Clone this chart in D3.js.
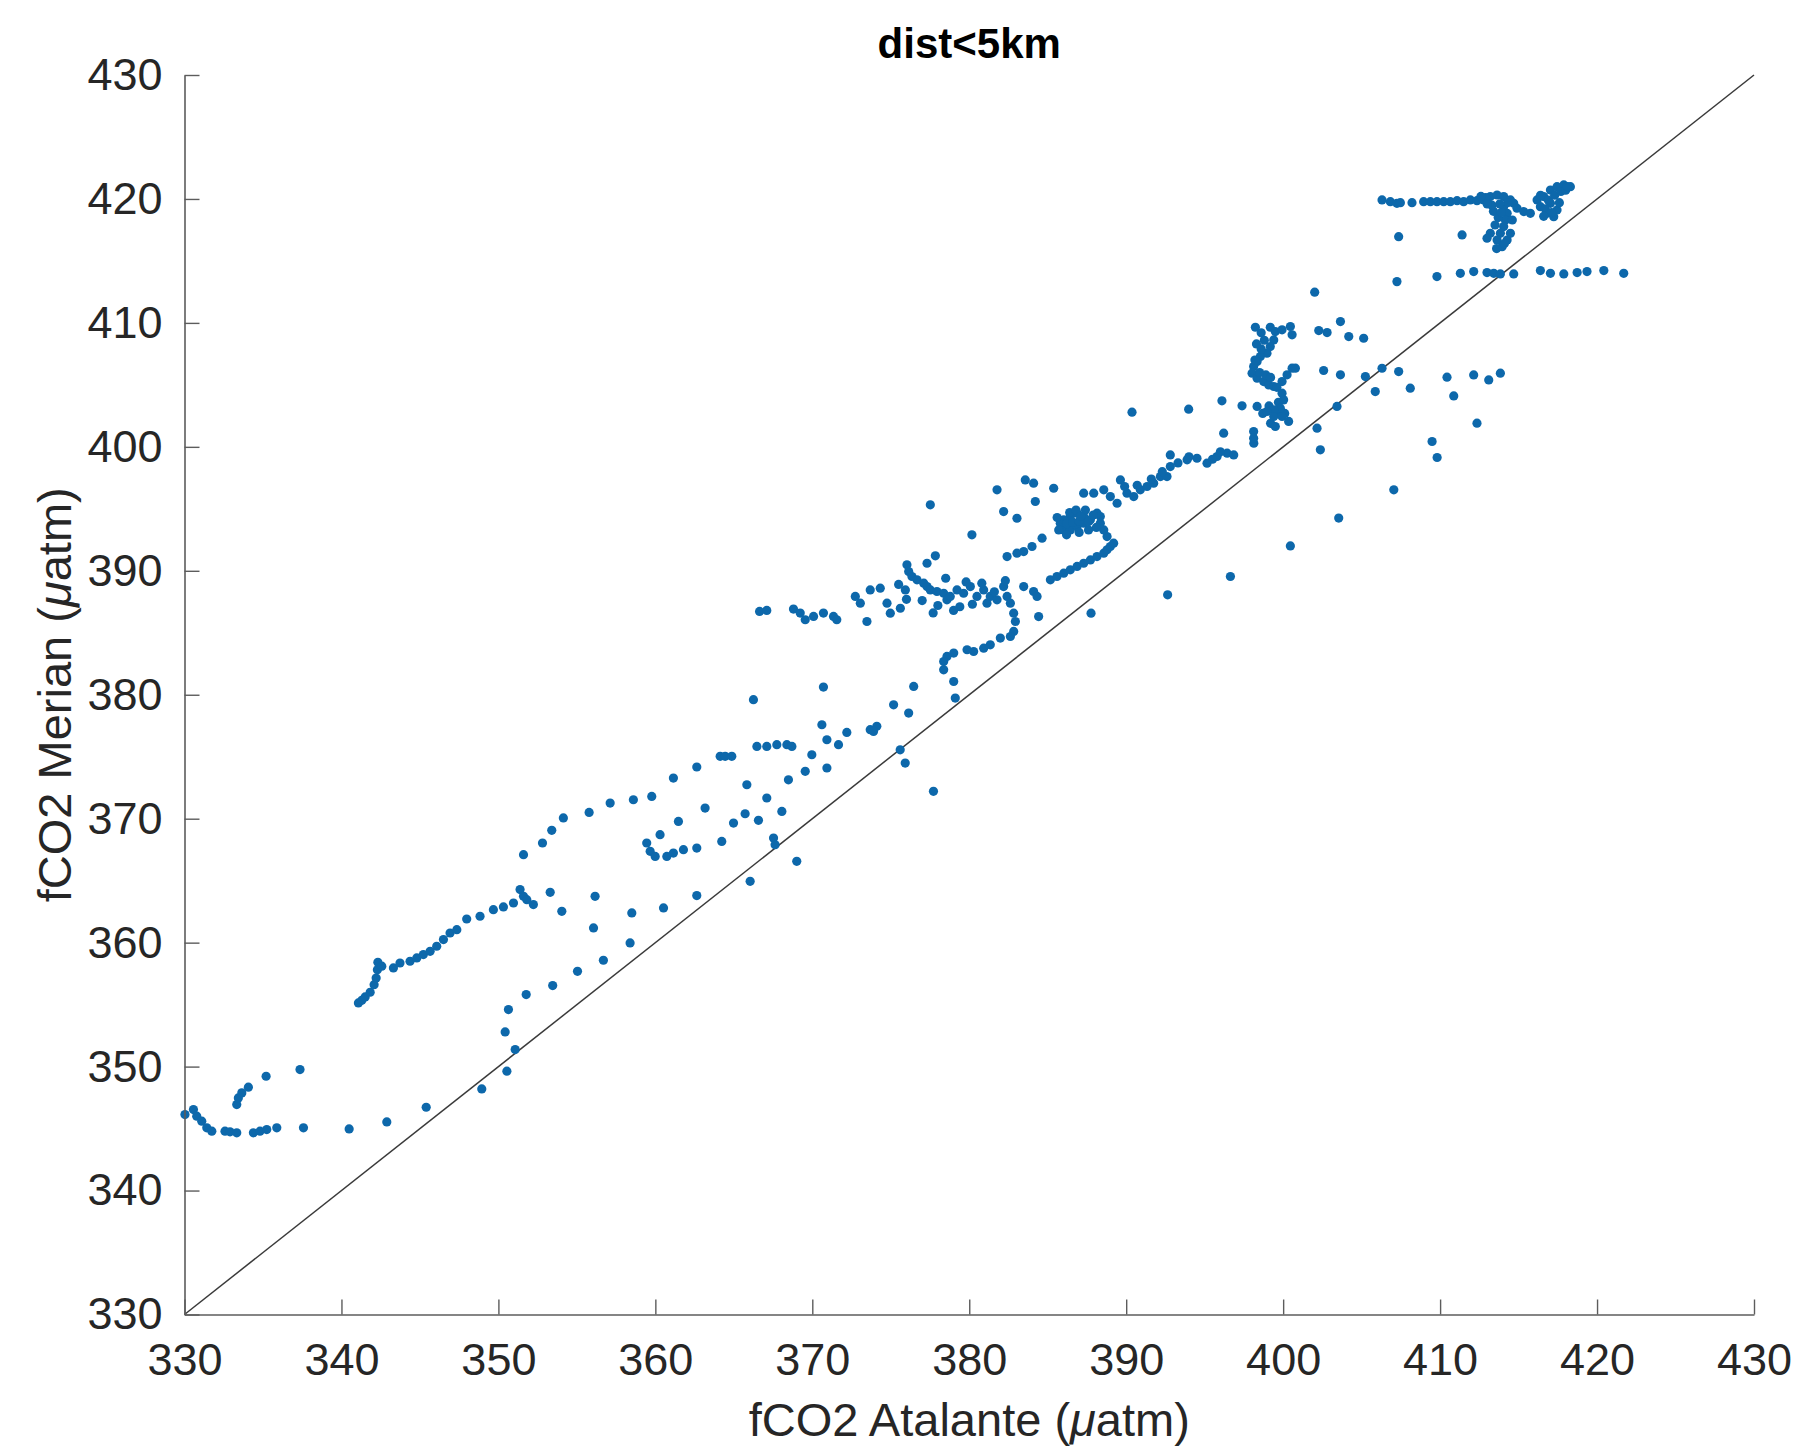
<!DOCTYPE html>
<html>
<head>
<meta charset="utf-8">
<script src="https://cdn.jsdelivr.net/npm/d3@7"></script>
<style>
  html, body { margin: 0; padding: 0; background: #ffffff; }
  svg { display: block; }
</style>
</head>
<body>
<svg id="chart" width="1808" height="1448"></svg>
<script>
// ---------------- data ----------------
const chartTitle = "dist<5km";
const xTicks = [330, 340, 350, 360, 370, 380, 390, 400, 410, 420, 430];
const yTicks = [330, 340, 350, 360, 370, 380, 390, 400, 410, 420, 430];
const identityLine = [[330, 330], [430, 430]];

// [fCO2 Atalante, fCO2 Merian]
const ptsLowLeft = [
  [330.03,346.13],[330.57,346.53],[330.78,346.0],[331.1,345.6],[331.42,345.06],[331.74,344.79],
  [332.58,344.79],[332.9,344.74],[333.33,344.66],[334.39,344.66],[334.81,344.79],[335.24,344.92],
  [335.88,345.06],[337.58,345.06],[340.49,344.97],[342.89,345.54],[345.4,346.72],[348.94,348.2],
  [350.54,349.63],[351.07,351.37],[350.43,352.8],[350.64,354.6],
  [333.33,346.94],[333.43,347.47],[333.65,347.88],[334.07,348.34],[335.2,349.22],[337.36,349.76],
  [341.08,355.14],[341.3,355.35],[341.51,355.62],[341.83,356.0],[342.08,356.61],[342.21,357.15],
  [342.29,357.82],[342.32,358.42]
];
const ptsLowMid = [
  [342.57,358.1],[343.31,357.96],[343.73,358.36],[344.37,358.5],[344.8,358.77],[345.22,359.04],
  [345.65,359.3],[346.07,359.71],[346.5,360.25],[346.92,360.78],[347.35,361.05],[347.98,361.91],
  [348.83,362.13],[349.68,362.66],[350.32,362.88],[350.96,363.2],[351.38,364.28],[351.6,363.74],
  [351.81,363.47],[352.23,363.07],
  [351.6,367.1],[352.81,368.04],[353.4,369.06],[354.14,370.06],[355.78,370.51],
  [353.3,364.06],[354.04,362.53],[356.16,363.74],[356.06,361.19],[358.5,362.4],[360.52,362.8],
  [362.64,363.8],[358.39,359.98],[356.69,358.58],[355.04,357.69],[353.46,356.54],[351.77,355.81],
  [366.04,364.95]
];
const ptsMid = [
  [366.64,386.72],[367.1,386.8],[368.8,386.91],[369.23,386.59],[369.55,386.05],[370.08,386.32],
  [370.71,386.59],[371.35,386.32],[371.56,386.05],
  [370.71,380.62],[366.25,379.6],[370.61,377.58],[370.93,376.37],[371.67,375.97],[372.2,376.96],
  [373.69,377.18],[374.11,377.45],[373.9,377.04],
  [366.47,375.83],[367.1,375.83],[367.74,375.97],[368.38,375.97],[368.7,375.83],[369.97,375.16],
  [370.93,374.09],[369.55,373.82],[368.48,373.14],
  [364.13,375.03],[364.45,375.03],[364.87,375.03],[362.64,374.17],[361.15,373.28],[357.12,371.26],
  [358.6,371.53],[359.77,371.8],[365.83,372.74],[367.1,371.67],[363.17,370.86],[365.72,370.4],
  [366.57,369.87],[368.06,370.59],[364.98,369.65],[361.47,369.78],[360.3,368.71],[359.45,368.04],
  [359.67,367.37],[359.99,366.96],[360.73,366.96],[361.15,367.23],[361.79,367.5],[362.64,367.63],
  [364.23,368.17],[367.53,368.44],[367.63,367.9],[369.01,366.56],[375.6,375.56],[375.92,374.49],
  [377.72,372.21]
];
const ptsCluster = [
  [372.74,387.93],[373.06,387.39],[373.48,385.91],[373.69,388.46],[374.33,388.6],[374.76,387.39],
  [374.97,386.58],[375.61,386.98],[375.93,388.46],[376.03,390.48],[376.14,389.94],[376.35,389.54],
  [376.67,389.27],[377.1,389.0],[377.31,388.73],[377.52,388.46],[377.94,388.33],[378.37,388.19],
  [378.58,387.66],[378.79,387.93],[379.22,388.46],[379.64,388.19],[380.07,388.73],[380.49,387.93],
  [380.92,388.46],[381.13,387.39],[381.34,387.93],[381.77,387.66],[382.19,388.73],[382.41,387.93],
  [382.62,387.39],[382.83,386.58],[382.94,385.91],[382.83,385.11],[382.62,384.7],[381.98,384.57],
  [381.34,384.03],[380.92,383.76],[380.28,383.49],[379.86,383.63],[379.01,383.36],[378.58,383.09],
  [378.37,382.68],[378.37,382.01],[379.01,381.07],[379.11,379.73],[376.46,380.67],[375.18,379.19],
  [376.14,378.52],
  [375.5,388.9],[376.0,387.7],[377.0,387.6],[378.0,387.2],[379.4,387.1],[380.2,387.3],[381.6,388.3],
  [379.8,389.1],[378.5,389.4],[380.8,389.0],[382.3,389.2],[377.7,386.6],[379.0,386.8],
  [377.31,390.61],[377.84,391.21],[380.17,392.9],[377.52,395.32],[381.77,396.53],[382.19,394.78],
  [383.04,394.24],[383.57,397.33],[384.1,397.07],[384.21,395.59],[385.38,396.66],
  [382.41,391.15],[383.04,391.42],[383.47,391.55],[384.0,391.96],[384.64,392.63],
  [383.47,388.73],[384.1,388.33],[384.32,387.93],[385.17,389.27],[385.59,389.54],[386.02,389.81],
  [386.44,390.08],[386.87,390.35],[387.29,390.61],[387.72,390.88],[388.14,391.15],[388.57,391.42],
  [388.78,391.69],[388.99,391.96],[389.2,392.23],[388.78,392.76],[388.57,393.3],[388.35,393.84],
  [388.35,394.38],[388.14,394.65],[387.72,394.11],[387.29,394.38],[386.87,394.65],[386.44,394.38],
  [386.02,394.11],[385.8,393.84],[386.02,393.3],[386.44,393.3],[386.87,393.57],[387.29,393.84],
  [387.61,393.97],
  [386.2,393.8],[386.6,393.9],[387.0,394.0],[386.4,394.7],[386.8,394.9],[387.4,394.9],[387.9,394.5],
  [388.1,393.5],[387.6,393.3],[387.0,393.1],[386.2,392.9],[385.6,394.3],[385.7,393.3],[387.1,394.4],
  [387.29,396.26],[387.93,396.26],[388.57,396.53],[388.99,395.99],[389.42,395.45],[389.63,397.33],
  [390.05,396.26],[390.48,395.99],[390.9,396.53],[391.33,396.8],[391.75,397.07],[392.18,397.6],
  [392.6,397.6],[392.81,398.41],[392.81,399.35],[393.88,398.95],[394.51,399.08],[395.15,398.68],
  [395.79,399.22],[396.43,399.49],[396.85,399.35],[398.13,400.29],
  [389.9,396.8],[390.7,396.9],[391.6,397.4],[392.3,398.0],[393.3,398.7],[394.0,399.2],[395.5,399.0],
  [396.0,399.6],
  [384.42,386.31],[387.76,386.58],[392.64,388.06],[396.64,389.54],[400.46,392.01]
];
const ptsUpper = [
  [402.01,412.48],[398.23,409.65],[399.18,409.65],[399.5,409.3],[399.93,409.44],[400.46,409.71],
  [400.57,409.04],[402.27,409.38],[402.8,409.22],[403.65,410.11],[404.18,408.9],
  [399.4,408.63],[399.18,408.09],[398.97,407.56],[398.55,407.29],[398.34,406.88],[398.12,406.48],
  [398.02,405.94],[398.34,405.54],[398.76,405.27],[399.08,405.0],[399.4,404.87],[399.93,405.27],
  [400.25,405.81],[400.57,406.35],[400.78,406.35],
  [398.6,409.2],[398.8,408.6],[398.3,408.3],[398.6,407.9],[398.2,407.0],[398.5,406.0],[398.9,405.8],
  [399.2,405.6],[399.6,404.8],[399.7,403.6],[399.1,403.3],[398.7,402.7],[399.7,402.9],[400.1,402.7],
  [399.2,401.9],
  [399.93,404.33],[400.03,403.79],[399.82,403.12],[399.4,402.99],[398.97,402.85],[398.34,403.26],
  [399.4,402.45],[399.93,402.45],[400.35,402.05],[399.5,401.64],
  [402.58,406.16],[403.65,405.81],[403.43,403.26],[402.16,401.51],[402.37,399.76],
  [409.49,400.43],[409.81,399.14],[407.05,396.53],[403.54,394.25],
  [396.1,403.71],[397.38,403.31],[398.12,401.24],[398.12,400.7],[396.21,401.1],[393.98,403.04],
  [390.37,402.8]
];
const ptsTop = [
  [406.3,419.92],[406.83,419.78],[407.25,419.65],[407.47,419.7],[408.21,419.7],[408.95,419.78],
  [409.38,419.78],[409.8,419.78],[410.23,419.78],[410.65,419.78],[411.08,419.86],[411.5,419.78],
  [411.93,419.92],[412.35,419.86],[412.78,419.92],[413.2,420.19],[413.63,420.32],[414.05,420.19],
  [414.48,419.92],[414.69,419.65],[414.9,419.25],[415.33,418.98],[415.75,418.84],[414.05,419.38],
  [414.27,418.84],[414.16,418.3],[414.05,417.77],[413.84,417.23],[413.63,416.69],[413.95,416.15],
  [414.27,416.69],[414.48,417.23],[413.2,417.23],[412.99,416.83],[416.18,419.92],[416.6,420.19],
  [417.03,420.72],[417.45,420.99],[417.88,421.13],[418.3,420.99],[417.03,419.65],[417.45,419.11],
  [417.24,418.57],[416.81,418.84],[416.39,419.38],[407.36,416.96],[411.4,417.1],
  [413.4,419.0],[413.7,418.5],[413.5,417.9],[413.9,418.9],[414.3,419.7],[413.8,419.6],[413.3,419.5],
  [414.6,418.3],[413.6,416.0],[414.1,416.4],[412.9,420.1],[413.0,419.6],[412.6,420.2],
  [416.9,419.9],[417.3,420.3],[417.7,420.6],[418.0,420.7],[416.7,419.2],[417.1,418.9],[416.6,418.6],
  [416.4,420.3],[417.6,419.7],[418.1,421.0],
  [407.25,413.33],[409.8,413.74],[411.29,414.0],[412.14,414.14],[412.99,414.06],[413.42,414.0],
  [413.84,413.95],[414.69,413.95],[416.39,414.22],[417.03,414.0],[417.88,413.95],[418.73,414.06],
  [419.36,414.14],[420.43,414.22],[421.7,414.0],
  [405.13,408.76],[405.24,405.67],[406.3,406.34],[407.36,406.07],[405.87,404.46],[408.1,404.73],
  [410.44,405.62],[410.87,404.11],[412.14,405.8],[413.1,405.4],[413.84,405.94],[412.35,401.91]
];
const allPoints = [].concat(ptsLowLeft, ptsLowMid, ptsMid, ptsCluster, ptsUpper, ptsTop);

// ---------------- drawing ----------------
const svg = d3.select("#chart");
svg.append("rect").attr("width", 1808).attr("height", 1448).attr("fill", "#ffffff");

const plotLeft = 184.5, plotRight = 1754, plotTop = 75, plotBottom = 1314.5;
const x = d3.scaleLinear().domain([330, 430]).range([plotLeft, plotRight]);
const y = d3.scaleLinear().domain([330, 430]).range([plotBottom, plotTop]);

const fontFam = "'Liberation Sans', Arial, Helvetica, sans-serif";
const axisColor = "#5c5c5c";

// identity line
svg.append("line")
  .attr("x1", x(identityLine[0][0])).attr("y1", y(identityLine[0][1]))
  .attr("x2", x(identityLine[1][0])).attr("y2", y(identityLine[1][1]))
  .attr("stroke", "#3a3a3a").attr("stroke-width", 1.5);

// points
svg.append("g").selectAll("circle")
  .data(allPoints)
  .join("circle")
  .attr("cx", d => x(d[0]))
  .attr("cy", d => y(d[1]))
  .attr("r", 4.6)
  .attr("fill", "#0d68ab");

// axes
const xAxis = d3.axisBottom(x).tickValues(xTicks).tickFormat(d3.format("d"))
  .tickSize(-15).tickSizeOuter(0).tickPadding(29);
const yAxis = d3.axisLeft(y).tickValues(yTicks).tickFormat(d3.format("d"))
  .tickSize(-15).tickSizeOuter(0).tickPadding(22);

const gx = svg.append("g").attr("transform", `translate(0,${plotBottom})`).call(xAxis);
const gy = svg.append("g").attr("transform", `translate(${plotLeft},0)`).call(yAxis);

[gx, gy].forEach(g => {
  g.select(".domain").attr("stroke", axisColor).attr("stroke-width", 1.6);
  g.selectAll(".tick line").attr("stroke", axisColor).attr("stroke-width", 1.4);
  g.selectAll(".tick text")
    .attr("fill", "#262626")
    .style("font-family", fontFam)
    .style("font-size", "45px");
});

// title
svg.append("text")
  .attr("x", (plotLeft + plotRight) / 2).attr("y", 58)
  .attr("text-anchor", "middle")
  .style("font-family", fontFam).style("font-size", "42px").style("font-weight", "bold")
  .attr("fill", "#000")
  .text(chartTitle);

// x label
const xl = svg.append("text")
  .attr("x", (plotLeft + plotRight) / 2).attr("y", 1436)
  .attr("text-anchor", "middle")
  .style("font-family", fontFam).style("font-size", "47px")
  .attr("fill", "#262626");
xl.append("tspan").text("fCO2 Atalante (");
xl.append("tspan").style("font-style", "italic").text("\u03BC");
xl.append("tspan").text("atm)");

// y label
const yl = svg.append("text")
  .attr("transform", `translate(71,${(plotTop + plotBottom) / 2}) rotate(-90)`)
  .attr("text-anchor", "middle")
  .style("font-family", fontFam).style("font-size", "47px")
  .attr("fill", "#262626");
yl.append("tspan").text("fCO2 Merian (");
yl.append("tspan").style("font-style", "italic").text("\u03BC");
yl.append("tspan").text("atm)");
</script>
</body>
</html>
